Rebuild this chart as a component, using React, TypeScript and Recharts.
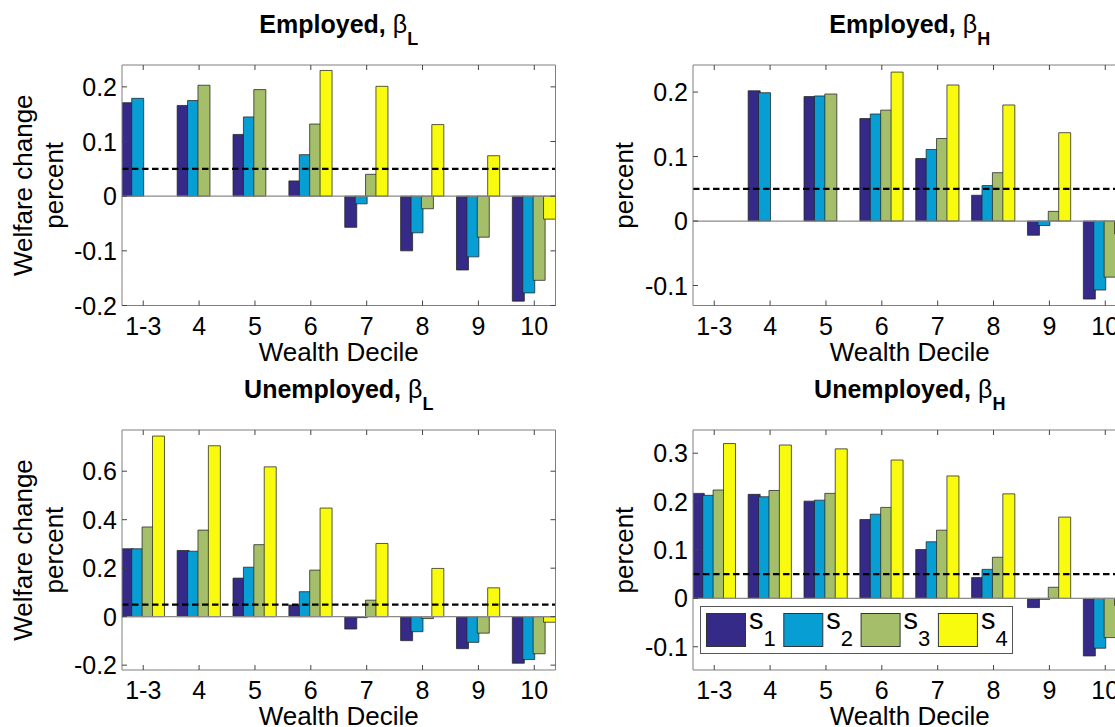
import React from "react";
import { BarChart, Bar, XAxis, YAxis, ReferenceLine, Legend, Label } from "recharts";

const deciles = ["1-3", "4", "5", "6", "7", "8", "9", "10"];
const seriesNames = ["s1", "s2", "s3", "s4"];
const seriesColors = ["#352A87", "#079ED3", "#A5BE6A", "#F9FB0E"];

// Employed, beta L
const empLowS1 = [0.171, 0.166, 0.113, 0.028, -0.057, -0.1, -0.135, -0.192];
const empLowS2 = [0.179, 0.175, 0.145, 0.076, -0.014, -0.067, -0.111, -0.177];
const empLowS3 = [null, 0.203, 0.195, 0.132, 0.04, -0.023, -0.075, -0.154];
const empLowS4 = [null, null, null, 0.23, 0.201, 0.131, 0.074, -0.042];

// Employed, beta H
const empHighS1 = [null, 0.202, 0.193, 0.159, 0.097, 0.04, -0.022, -0.121];
const empHighS2 = [null, 0.199, 0.194, 0.166, 0.111, 0.055, -0.007, -0.107];
const empHighS3 = [null, null, 0.197, 0.172, 0.128, 0.075, 0.015, -0.087];
const empHighS4 = [null, null, null, 0.231, 0.211, 0.18, 0.137, -0.02];

// Unemployed, beta L
const unempLowS1 = [0.28, 0.273, 0.159, 0.048, -0.051, -0.099, -0.132, -0.192];
const unempLowS2 = [0.28, 0.27, 0.204, 0.103, -0.004, -0.062, -0.106, -0.177];
const unempLowS3 = [0.37, 0.357, 0.297, 0.192, 0.068, -0.008, -0.068, -0.153];
const unempLowS4 = [0.745, 0.705, 0.618, 0.448, 0.302, 0.199, 0.119, -0.023];

// Unemployed, beta H
const unempHighS1 = [0.217, 0.215, 0.201, 0.163, 0.101, 0.043, -0.019, -0.119];
const unempHighS2 = [0.213, 0.21, 0.203, 0.174, 0.117, 0.06, -0.002, -0.103];
const unempHighS3 = [0.224, 0.223, 0.217, 0.188, 0.141, 0.085, 0.023, -0.081];
const unempHighS4 = [0.32, 0.317, 0.309, 0.286, 0.253, 0.216, 0.168, -0.015];

const threshold = 0.05;

const FONT = "'Liberation Sans', Arial, Helvetica, sans-serif";
const PLOT_W = 433.5;
const PAD_L = 120;
const PAD_T = 70;
const PAD_R = 12;
const PAD_B = 62;

const panels = [
  {
    title: "Employed, ", sub: "L", series: [empLowS1, empLowS2, empLowS3, empLowS4],
    domain: [-0.2, 0.24], ticks: [-0.2, -0.1, 0, 0.1, 0.2],
    yLabel: ["Welfare change", "percent"], left: 121.5, top: 64.5, h: 240.5, legend: false,
  },
  {
    title: "Employed, ", sub: "H", series: [empHighS1, empHighS2, empHighS3, empHighS4],
    domain: [-0.131, 0.242], ticks: [-0.1, 0, 0.1, 0.2],
    yLabel: ["percent"], left: 693.3, top: 64.5, h: 240.5, legend: false,
  },
  {
    title: "Unemployed, ", sub: "L", series: [unempLowS1, unempLowS2, unempLowS3, unempLowS4],
    domain: [-0.22, 0.77], ticks: [-0.2, 0, 0.2, 0.4, 0.6],
    yLabel: ["Welfare change", "percent"], left: 121.5, top: 430, h: 240, legend: false,
  },
  {
    title: "Unemployed, ", sub: "H", series: [unempHighS1, unempHighS2, unempHighS3, unempHighS4],
    domain: [-0.148, 0.348], ticks: [-0.1, 0, 0.1, 0.2, 0.3],
    yLabel: ["percent"], left: 693.3, top: 430, h: 240, legend: true,
  },
];

const bottomTick = (props: any) => {
  const { x, y, payload } = props;
  return (
    <g>
      <line x1={x} x2={x} y1={y} y2={y - 5} stroke="#444" />
      <text x={x} y={y + 29} textAnchor="middle" fontSize={25} fontFamily={FONT} fill="#000">
        {deciles[payload.value - 1]}
      </text>
    </g>
  );
};

const topTick = (props: any) => {
  const { x, y } = props;
  return <line x1={x} x2={x} y1={y} y2={y + 5} stroke="#444" />;
};

const leftTick = (props: any) => {
  const { x, y, payload } = props;
  return (
    <g>
      <line x1={x} x2={x + 5} y1={y} y2={y} stroke="#444" />
      <text x={x - 5} y={y} dy="0.36em" textAnchor="end" fontSize={25} fontFamily={FONT} fill="#000">
        {String(payload.value)}
      </text>
    </g>
  );
};

const rightTick = (props: any) => {
  const { x, y } = props;
  return <line x1={x} x2={x - 5} y1={y} y2={y} stroke="#444" />;
};

const renderLegend = () => (
  <svg width={313} height={48} style={{ display: "block" }}>
    <rect x={0.5} y={0.5} width={312} height={47} fill="#fff" stroke="#555" />
    {seriesNames.map((name, i) => (
      <g key={name}>
        <rect x={6.5 + i * 77.3} y={7.5} width={39} height={33} fill={seriesColors[i]} stroke="#333" />
        <text x={49 + i * 77.3} y={23} fontSize={29} fontFamily={FONT} fill="#000">
          {name.slice(0, 1)}
          <tspan dy={17} fontSize={22}>{name.slice(1)}</tspan>
        </text>
      </g>
    ))}
  </svg>
);

function Panel({ p }: { p: (typeof panels)[number] }) {
  const data = deciles.map((d, i) => ({
    x: i + 1,
    name: d,
    s1: p.series[0][i],
    s2: p.series[1][i],
    s3: p.series[2][i],
    s4: p.series[3][i],
  }));

  const titleContent = (props: any) => {
    const vb = props.viewBox;
    const top = vb.y + vb.height;
    return (
      <text x={vb.x + vb.width / 2} y={top - 32.5} textAnchor="middle" fontSize={25} fontFamily={FONT} fill="#000">
        <tspan fontWeight="bold">{p.title}</tspan>
        <tspan>β</tspan>
        <tspan dy={12.5} fontSize={18} fontWeight="bold">{p.sub}</tspan>
      </text>
    );
  };

  const xLabelContent = (props: any) => {
    const vb = props.viewBox;
    return (
      <text x={vb.x + vb.width / 2} y={vb.y + 55} textAnchor="middle" fontSize={26} fontFamily={FONT} fill="#000">
        Wealth Decile
      </text>
    );
  };

  const yLabelContent = (props: any) => {
    const vb = props.viewBox;
    const cy = vb.y + vb.height / 2;
    const plotLeft = vb.x + vb.width;
    const offsets = p.yLabel.length === 2 ? [-90, -59.5] : [-60];
    return (
      <g>
        {p.yLabel.map((line, i) => {
          const cx = plotLeft + offsets[i];
          return (
            <text key={line} x={cx} y={cy} transform={`rotate(-90, ${cx}, ${cy})`} textAnchor="middle" fontSize={26} fontFamily={FONT} fill="#000">
              {line}
            </text>
          );
        })}
      </g>
    );
  };

  return (
    <div style={{ position: "absolute", left: p.left - PAD_L, top: p.top - PAD_T }}>
      <BarChart
        width={PAD_L + PLOT_W + PAD_R}
        height={PAD_T + p.h + PAD_B}
        data={data}
        margin={{ top: PAD_T - 1, right: PAD_R - 1, bottom: 0, left: 0 }}
        barSize={12}
        barGap={-1.6}
      >
        <XAxis
          dataKey="x" type="number" domain={[0.62, 8.38]} ticks={[1, 2, 3, 4, 5, 6, 7, 8]}
          allowDataOverflow interval={0} height={PAD_B} tickSize={0} tickMargin={0}
          stroke="#7f7f7f" tick={bottomTick}
        >
          <Label content={xLabelContent} />
        </XAxis>
        <XAxis
          xAxisId="top" orientation="top" dataKey="x" type="number" domain={[0.62, 8.38]}
          ticks={[1, 2, 3, 4, 5, 6, 7, 8]} allowDataOverflow interval={0} height={1}
          tickSize={0} tickMargin={0} stroke="#7f7f7f" tick={topTick}
        >
          <Label content={titleContent} />
        </XAxis>
        <YAxis
          type="number" domain={p.domain} ticks={p.ticks} allowDataOverflow interval={0}
          width={PAD_L} tickSize={0} tickMargin={0} stroke="#7f7f7f" tick={leftTick}
        >
          <Label content={yLabelContent} />
        </YAxis>
        <YAxis
          yAxisId="right" orientation="right" type="number" domain={p.domain} ticks={p.ticks}
          allowDataOverflow interval={0} width={1} tickSize={0} tickMargin={0}
          stroke="#7f7f7f" tick={rightTick}
        />
        <ReferenceLine y={0} stroke="#8a8a8a" strokeWidth={1.2} />
        {seriesNames.map((name, i) => (
          <Bar
            key={name}
            dataKey={name}
            name={name}
            fill={seriesColors[i]}
            stroke="#222"
            strokeOpacity={0.75}
            strokeWidth={1}
            isAnimationActive={false}
          />
        ))}
        <ReferenceLine y={threshold} stroke="#000" strokeWidth={2.2} strokeDasharray="6.5 3.5" />
        {p.legend && (
          <Legend
            layout="horizontal"
            verticalAlign="middle"
            align="center"
            wrapperStyle={{ left: 126.7, top: 245.7, width: 313, height: 48 }}
            content={renderLegend}
          />
        )}
      </BarChart>
    </div>
  );
}

export default function App() {
  return (
    <div
      style={{
        position: "absolute", left: 0, top: 0, width: 1115, height: 727,
        overflow: "hidden", background: "#fff", fontFamily: FONT,
      }}
    >
      {panels.map((p) => (
        <Panel key={p.title + p.sub} p={p} />
      ))}
    </div>
  );
}
